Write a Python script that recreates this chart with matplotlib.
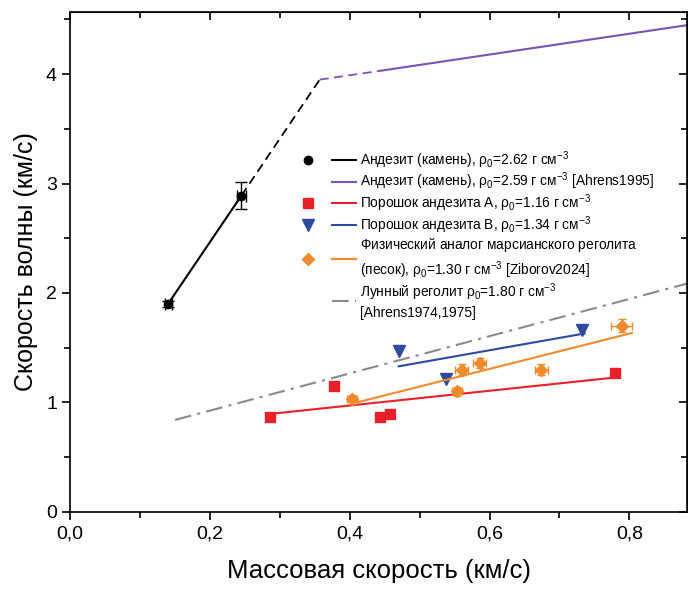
import matplotlib
matplotlib.use("Agg")
import matplotlib.pyplot as plt
from matplotlib.ticker import MultipleLocator, FuncFormatter
from matplotlib.lines import Line2D
from matplotlib.legend_handler import HandlerTuple

plt.rcParams["font.family"] = ["Liberation Sans", "DejaVu Sans"]
plt.rcParams["mathtext.fontset"] = "custom"
plt.rcParams["mathtext.rm"] = "Liberation Sans"
plt.rcParams["mathtext.it"] = "Liberation Sans:italic"

# andesite rock (own data)
rock_u = [0.14, 0.245]
rock_D = [1.90, 2.89]
rock_uerr = [0.005, 0.007]
rock_Derr = [0.03, 0.12]
rock_fit_u = [0.14, 0.245]
rock_fit_D = [1.90, 2.89]
rock_ext_u = [0.245, 0.357]
rock_ext_D = [2.89, 3.95]

# andesite rock, Ahrens1995
ahr_dash_u = [0.357, 0.443]
ahr_dash_D = [3.95, 4.03]
ahr_u = [0.443, 0.885]
ahr_D = [4.03, 4.45]

# powder A
pa_u = [0.286, 0.377, 0.444, 0.457, 0.78]
pa_D = [0.87, 1.15, 0.87, 0.89, 1.27]
pa_fit_u = [0.286, 0.776]
pa_fit_D = [0.895, 1.225]

# powder B
pb_u = [0.47, 0.538, 0.733]
pb_D = [1.47, 1.21, 1.66]
pb_fit_u = [0.47, 0.736]
pb_fit_D = [1.33, 1.63]

# martian regolith analog (sand)
mr_u = [0.403, 0.553, 0.56, 0.586, 0.674, 0.789]
mr_D = [1.03, 1.10, 1.30, 1.36, 1.30, 1.70]
mr_uerr = [0.007, 0.007, 0.009, 0.009, 0.009, 0.015]
mr_Derr = [0.04, 0.04, 0.05, 0.05, 0.05, 0.06]
mr_fit_u = [0.407, 0.804]
mr_fit_D = [0.995, 1.635]

# lunar regolith
lr_u = [0.15, 0.885]
lr_D = [0.84, 2.09]

RED = "#e8202a"
BLUE = "#2f4aa0"
ORANGE = "#f08a2c"
PURPLE = "#7b52b5"
GRAY = "#8a8a8a"

fig = plt.figure(figsize=(6.88, 5.89), dpi=100)
ax = fig.add_axes([0.102, 0.131, 0.897, 0.849])

ax.plot(lr_u, lr_D, color=GRAY, lw=1.5, ls=(0, (8, 3, 1.5, 3)))
ax.plot(ahr_dash_u, ahr_dash_D, color=PURPLE, lw=1.3, ls=(0, (5, 3)))
ax.plot(ahr_u, ahr_D, color=PURPLE, lw=1.5)
ax.plot(rock_ext_u, rock_ext_D, color="black", lw=1.3, ls=(0, (5, 3)))
ax.plot(rock_fit_u, rock_fit_D, color="black", lw=1.5)
ax.errorbar(rock_u, rock_D, xerr=rock_uerr, yerr=rock_Derr, fmt="o", color="black",
            ms=6, capsize=4, elinewidth=1, capthick=1)
ax.plot(pa_fit_u, pa_fit_D, color=RED, lw=1.5)
ax.plot(pa_u, pa_D, "s", color=RED, ms=7)
ax.plot(pb_fit_u, pb_fit_D, color=BLUE, lw=1.5)
ax.plot(pb_u, pb_D, "v", color=BLUE, ms=9)
ax.plot(mr_fit_u, mr_fit_D, color=ORANGE, lw=1.5)
ax.errorbar(mr_u, mr_D, xerr=mr_uerr, yerr=mr_Derr, fmt="D", color=ORANGE,
            ms=6, capsize=3, elinewidth=1, capthick=1)

ax.set_xlim(0, 0.883)
ax.set_ylim(0, 4.57)
ax.xaxis.set_major_locator(MultipleLocator(0.2))
ax.xaxis.set_minor_locator(MultipleLocator(0.1))
ax.yaxis.set_major_locator(MultipleLocator(1))
ax.yaxis.set_minor_locator(MultipleLocator(0.5))
ax.xaxis.set_major_formatter(FuncFormatter(lambda v, p: f"{v:.1f}".replace(".", ",")))
ax.tick_params(which="major", direction="out", length=6, width=1.2, labelsize=14)
ax.tick_params(which="minor", direction="out", length=4, width=1.2)
for s in ax.spines.values():
    s.set_linewidth(1.2)

top = ax.secondary_xaxis("top")
top.xaxis.set_major_locator(MultipleLocator(0.2))
top.xaxis.set_minor_locator(MultipleLocator(0.1))
top.tick_params(which="major", direction="in", length=6, width=1.2, labeltop=False)
top.tick_params(which="minor", direction="in", length=4, width=1.2)
right = ax.secondary_yaxis("right")
right.yaxis.set_major_locator(MultipleLocator(1))
right.yaxis.set_minor_locator(MultipleLocator(0.5))
right.tick_params(which="major", direction="in", length=6, width=1.2, labelright=False)
right.tick_params(which="minor", direction="in", length=4, width=1.2)

ax.set_xlabel("Массовая скорость (км/с)", fontsize=18.5, labelpad=12)
ax.set_ylabel("Скорость волны (км/с)", fontsize=18, labelpad=6)

blank = Line2D([], [], ls="none", marker="none")
handles = [
    (Line2D([], [], ls="none", marker="o", color="black", ms=6), Line2D([], [], color="black", lw=1.5)),
    (blank, Line2D([], [], color=PURPLE, lw=1.5)),
    (Line2D([], [], ls="none", marker="s", color=RED, ms=7), Line2D([], [], color=RED, lw=1.5)),
    (Line2D([], [], ls="none", marker="v", color=BLUE, ms=9), Line2D([], [], color=BLUE, lw=1.5)),
    (Line2D([], [], ls="none", marker="D", color=ORANGE, ms=6), Line2D([], [], color=ORANGE, lw=1.5)),
    (blank, Line2D([], [], color=GRAY, lw=1.5, ls=(0, (8, 3, 1.5, 3)))),
]
labels = [
    r"Андезит (камень), ρ$_0$=2.62 г см$^{-3}$",
    r"Андезит (камень), ρ$_0$=2.59 г см$^{-3}$ [Ahrens1995]",
    r"Порошок андезита A, ρ$_0$=1.16 г см$^{-3}$",
    r"Порошок андезита B, ρ$_0$=1.34 г см$^{-3}$",
    r"Физический аналог марсианского реголита$^{\,}$" + "\n" + r"(песок), ρ$_0$=1.30 г см$^{-3}$ [Ziborov2024]",
    r"Лунный реголит ρ$_0$=1.80 г см$^{-3}$" + "\n[Ahrens1974,1975]",
]
leg = ax.legend(handles, labels, handler_map={tuple: HandlerTuple(ndivide=None, pad=0.8)},
                loc="upper left", bbox_to_anchor=(0.35, 0.745), frameon=False, fontsize=9.9,
                handlelength=4.4, handletextpad=0.3, labelspacing=0.02, borderpad=0.2)
for t in leg.get_texts():
    t.set_linespacing(1.3)

fig.savefig("out.png", dpi=100)
